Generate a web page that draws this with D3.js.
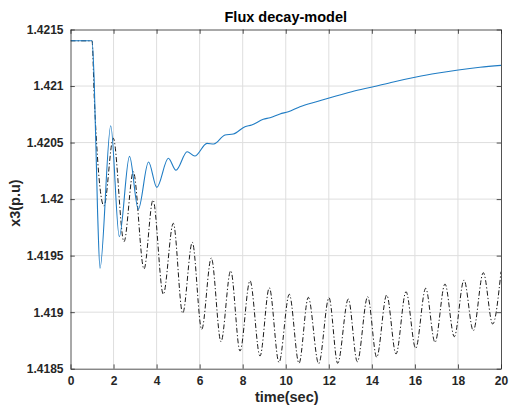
<!DOCTYPE html>
<html>
<head>
<meta charset="utf-8">
<script src="https://cdn.jsdelivr.net/npm/d3@7/dist/d3.min.js"></script>
<style>
  html, body { margin: 0; padding: 0; background: #fff; }
  svg { display: block; }
  text { font-family: "Liberation Sans", Arial, Helvetica, sans-serif; font-weight: bold; }
</style>
</head>
<body>
<svg id="chart" width="509" height="405"></svg>
<script>
// Flux decay-model response, x3 in p.u. versus time in seconds
const titleText = "Flux decay-model";
const xLabelText = "time(sec)";
const yLabelText = "x3(p.u)";

const xTicks = [0, 2, 4, 6, 8, 10, 12, 14, 16, 18, 20];
const yTicks = [1.4185, 1.419, 1.4195, 1.42, 1.4205, 1.421, 1.4215];
const yTickLabels = ["1.4185", "1.419", "1.4195", "1.42", "1.4205", "1.421", "1.4215"];

// solid blue trace
const blueT = [0, 1.0, 1.1, 1.26, 1.37, 1.87, 2.267, 2.741, 3.15, 3.624, 4.01, 4.544, 4.901,
  5.42, 5.775, 6.34, 6.657, 7.178, 7.563, 8.105, 8.418, 8.957, 9.27, 9.733, 10.12, 10.66,
  11.5, 12.056, 13.064, 14.067, 14.997, 16.005, 17.013, 18.016, 19.024, 20];
const blueV = [1.421400, 1.421400, 1.421050, 1.419874, 1.419388, 1.420649, 1.419667, 1.420378,
  1.419910, 1.420328, 1.420104, 1.420361, 1.420255, 1.420419, 1.420381, 1.420493, 1.420487,
  1.420567, 1.420576, 1.420640, 1.420655, 1.420706, 1.420720, 1.420753, 1.420773, 1.420817,
  1.420865, 1.420897, 1.420950, 1.420994, 1.421036, 1.421077, 1.421113, 1.421142, 1.421166,
  1.421183];

// dash-dot black trace
const blackT = [0, 1.0, 1.106, 1.556, 1.988, 2.485, 2.918, 3.415, 3.833, 4.311, 4.776, 5.212,
  5.659, 6.095, 6.541, 6.992, 7.443, 7.875, 8.339, 8.804, 9.236, 9.686, 10.165, 10.616,
  11.048, 11.531, 12.009, 12.414, 12.906, 13.324, 13.807, 14.225, 14.69, 15.122, 15.587,
  16.037, 16.502, 16.934, 17.398, 17.83, 18.281, 18.713, 19.178, 19.614, 20];
const blackV = [1.421400, 1.421400, 1.420891, 1.419939, 1.420538, 1.419623, 1.420242, 1.419382,
  1.419992, 1.419158, 1.419786, 1.418990, 1.419618, 1.418848, 1.419479, 1.418739, 1.419367,
  1.418656, 1.419278, 1.418612, 1.419216, 1.418556, 1.419158, 1.418548, 1.419131, 1.418544,
  1.419128, 1.418548, 1.419116, 1.418562, 1.419137, 1.418601, 1.419152, 1.418630, 1.419181,
  1.418680, 1.419211, 1.418733, 1.419249, 1.418783, 1.419284, 1.418836, 1.419349, 1.418895,
  1.419358];

const svg = d3.select("#chart");
const plot = { left: 70.5, right: 501, top: 29.5, bottom: 368.7 };

const x = d3.scaleLinear().domain([0, 20]).range([plot.left, plot.right]);
const y = d3.scaleLinear().domain([1.4185, 1.4215]).range([plot.bottom, plot.top]);

const axisColor = "#262626";
const tickLen = 4.3;

// grid
const grid = svg.append("g");
grid.selectAll("line.gx").data(xTicks.slice(1, -1)).join("line")
  .attr("x1", d => x(d)).attr("x2", d => x(d))
  .attr("y1", plot.top).attr("y2", plot.bottom)
  .attr("stroke", "#dedede").attr("stroke-width", 1);
grid.selectAll("line.gy").data(yTicks.slice(1, -1)).join("line")
  .attr("x1", plot.left).attr("x2", plot.right)
  .attr("y1", d => y(d)).attr("y2", d => y(d))
  .attr("stroke", "#dedede").attr("stroke-width", 1);

// data lines
svg.append("clipPath").attr("id", "plotclip")
  .append("rect").attr("x", plot.left).attr("y", plot.top)
  .attr("width", plot.right - plot.left).attr("height", plot.bottom - plot.top);

const line = d3.line().x(d => x(d[0])).y(d => y(d[1])).curve(d3.curveMonotoneX);
const lines = svg.append("g").attr("clip-path", "url(#plotclip)");

lines.append("path")
  .datum(blackT.map((t, i) => [t, blackV[i]]))
  .attr("d", line).attr("fill", "none")
  .attr("stroke", "#1a1a1a").attr("stroke-width", 1)
  .attr("stroke-dasharray", "5,2.2,1.2,2.2");

lines.append("path")
  .datum(blueT.map((t, i) => [t, blueV[i]]))
  .attr("d", line).attr("fill", "none")
  .attr("stroke", "#1f7cc4").attr("stroke-width", 1.1);

// axes with inward ticks on all four sides
const xAxisB = d3.axisBottom(x).tickValues(xTicks).tickSizeInner(-tickLen).tickSizeOuter(0).tickPadding(8);
const xAxisT = d3.axisTop(x).tickValues(xTicks).tickSizeInner(-tickLen).tickSizeOuter(0).tickFormat("");
const yAxisL = d3.axisLeft(y).tickValues(yTicks).tickSizeInner(-tickLen).tickSizeOuter(0).tickPadding(7)
  .tickFormat((d, i) => yTickLabels[i]);
const yAxisR = d3.axisRight(y).tickValues(yTicks).tickSizeInner(-tickLen).tickSizeOuter(0).tickFormat("");

function style(g) {
  g.select(".domain").attr("stroke", axisColor).attr("stroke-width", 0.8);
  g.selectAll(".tick line").attr("stroke", axisColor).attr("stroke-width", 0.8);
  g.selectAll(".tick text").attr("fill", axisColor).style("font-size", "12px")
    .style("font-family", "'Liberation Sans', Arial, Helvetica, sans-serif").style("font-weight", "bold");
}

svg.append("g").attr("transform", `translate(0,${plot.bottom})`).call(xAxisB).call(style);
svg.append("g").attr("transform", `translate(0,${plot.top})`).call(xAxisT).call(style);
svg.append("g").attr("transform", `translate(${plot.left},0)`).call(yAxisL).call(style);
svg.append("g").attr("transform", `translate(${plot.right},0)`).call(yAxisR).call(style);

// title and axis labels
svg.append("text").attr("x", (plot.left + plot.right) / 2).attr("y", 21.5)
  .attr("text-anchor", "middle").attr("fill", "#000").style("font-size", "14.5px")
  .text(titleText);

svg.append("text").attr("x", (plot.left + plot.right) / 2 + 1).attr("y", 401.5)
  .attr("text-anchor", "middle").attr("fill", axisColor).style("font-size", "14.5px")
  .text(xLabelText);

svg.append("text")
  .attr("transform", `translate(20,${(plot.top + plot.bottom) / 2 + 4}) rotate(-90)`)
  .attr("text-anchor", "middle").attr("fill", axisColor).style("font-size", "14.5px")
  .text(yLabelText);
</script>
</body>
</html>
